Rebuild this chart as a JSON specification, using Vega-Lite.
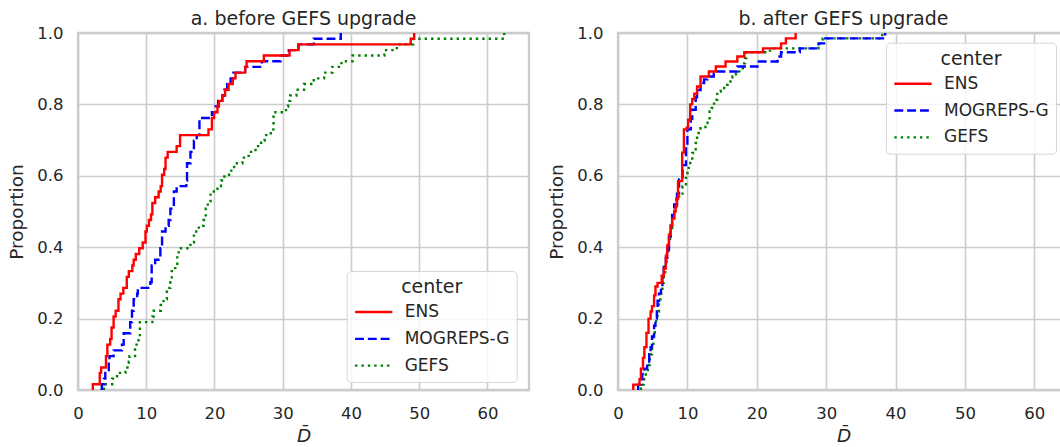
{
  "$schema": "https://vega.github.io/schema/vega-lite/v6.json",
  "padding": {"left": 6, "top": 8, "right": 0, "bottom": 0},
  "background": "white",
  "data": {"values": [
    {"panel":"a","center":"GEFS","D":3.8,"p":0},{"panel":"a","center":"GEFS","D":3.8,"p":0.016},{"panel":"a","center":"GEFS","D":5.01,"p":0.032},{"panel":"a","center":"GEFS","D":5.72,"p":0.048},{"panel":"a","center":"GEFS","D":6.94,"p":0.063},{"panel":"a","center":"GEFS","D":7.45,"p":0.079},{"panel":"a","center":"GEFS","D":7.55,"p":0.095},{"panel":"a","center":"GEFS","D":8.36,"p":0.127},{"panel":"a","center":"GEFS","D":8.87,"p":0.143},{"panel":"a","center":"GEFS","D":9.07,"p":0.19},{"panel":"a","center":"GEFS","D":10.9,"p":0.206},{"panel":"a","center":"GEFS","D":11.1,"p":0.222},{"panel":"a","center":"GEFS","D":12.12,"p":0.238},{"panel":"a","center":"GEFS","D":12.53,"p":0.254},{"panel":"a","center":"GEFS","D":13.03,"p":0.286},{"panel":"a","center":"GEFS","D":13.54,"p":0.302},{"panel":"a","center":"GEFS","D":13.74,"p":0.333},{"panel":"a","center":"GEFS","D":14.25,"p":0.349},{"panel":"a","center":"GEFS","D":14.55,"p":0.381},{"panel":"a","center":"GEFS","D":14.76,"p":0.397},{"panel":"a","center":"GEFS","D":16.48,"p":0.413},{"panel":"a","center":"GEFS","D":16.99,"p":0.444},{"panel":"a","center":"GEFS","D":17.7,"p":0.46},{"panel":"a","center":"GEFS","D":18.41,"p":0.476},{"panel":"a","center":"GEFS","D":18.72,"p":0.508},{"panel":"a","center":"GEFS","D":19.02,"p":0.524},{"panel":"a","center":"GEFS","D":19.43,"p":0.556},{"panel":"a","center":"GEFS","D":20.44,"p":0.571},{"panel":"a","center":"GEFS","D":20.95,"p":0.587},{"panel":"a","center":"GEFS","D":21.46,"p":0.603},{"panel":"a","center":"GEFS","D":22.47,"p":0.619},{"panel":"a","center":"GEFS","D":22.88,"p":0.635},{"panel":"a","center":"GEFS","D":24.1,"p":0.651},{"panel":"a","center":"GEFS","D":25.01,"p":0.667},{"panel":"a","center":"GEFS","D":26.02,"p":0.683},{"panel":"a","center":"GEFS","D":26.84,"p":0.698},{"panel":"a","center":"GEFS","D":27.35,"p":0.714},{"panel":"a","center":"GEFS","D":28.26,"p":0.73},{"panel":"a","center":"GEFS","D":28.66,"p":0.778},{"panel":"a","center":"GEFS","D":30.49,"p":0.794},{"panel":"a","center":"GEFS","D":30.8,"p":0.81},{"panel":"a","center":"GEFS","D":31.1,"p":0.825},{"panel":"a","center":"GEFS","D":32.01,"p":0.841},{"panel":"a","center":"GEFS","D":33.13,"p":0.857},{"panel":"a","center":"GEFS","D":34.55,"p":0.873},{"panel":"a","center":"GEFS","D":36.07,"p":0.889},{"panel":"a","center":"GEFS","D":37.29,"p":0.905},{"panel":"a","center":"GEFS","D":38.61,"p":0.921},{"panel":"a","center":"GEFS","D":40.24,"p":0.937},{"panel":"a","center":"GEFS","D":44.9,"p":0.952},{"panel":"a","center":"GEFS","D":46.73,"p":0.968},{"panel":"a","center":"GEFS","D":49.17,"p":0.984},{"panel":"a","center":"GEFS","D":62.47,"p":1.0},
    {"panel":"a","center":"MOGREPS-G","D":3.49,"p":0},{"panel":"a","center":"MOGREPS-G","D":3.49,"p":0.016},{"panel":"a","center":"MOGREPS-G","D":3.8,"p":0.032},{"panel":"a","center":"MOGREPS-G","D":4.0,"p":0.048},{"panel":"a","center":"MOGREPS-G","D":4.51,"p":0.079},{"panel":"a","center":"MOGREPS-G","D":4.61,"p":0.095},{"panel":"a","center":"MOGREPS-G","D":5.22,"p":0.111},{"panel":"a","center":"MOGREPS-G","D":6.44,"p":0.127},{"panel":"a","center":"MOGREPS-G","D":6.69,"p":0.159},{"panel":"a","center":"MOGREPS-G","D":7.65,"p":0.19},{"panel":"a","center":"MOGREPS-G","D":7.91,"p":0.222},{"panel":"a","center":"MOGREPS-G","D":8.16,"p":0.254},{"panel":"a","center":"MOGREPS-G","D":8.67,"p":0.27},{"panel":"a","center":"MOGREPS-G","D":8.77,"p":0.286},{"panel":"a","center":"MOGREPS-G","D":10.6,"p":0.302},{"panel":"a","center":"MOGREPS-G","D":10.8,"p":0.349},{"panel":"a","center":"MOGREPS-G","D":11.31,"p":0.365},{"panel":"a","center":"MOGREPS-G","D":12.07,"p":0.397},{"panel":"a","center":"MOGREPS-G","D":12.32,"p":0.444},{"panel":"a","center":"MOGREPS-G","D":12.83,"p":0.46},{"panel":"a","center":"MOGREPS-G","D":13.29,"p":0.476},{"panel":"a","center":"MOGREPS-G","D":13.54,"p":0.508},{"panel":"a","center":"MOGREPS-G","D":14.05,"p":0.556},{"panel":"a","center":"MOGREPS-G","D":14.46,"p":0.571},{"panel":"a","center":"MOGREPS-G","D":15.87,"p":0.587},{"panel":"a","center":"MOGREPS-G","D":15.98,"p":0.635},{"panel":"a","center":"MOGREPS-G","D":16.48,"p":0.667},{"panel":"a","center":"MOGREPS-G","D":16.99,"p":0.698},{"panel":"a","center":"MOGREPS-G","D":17.4,"p":0.714},{"panel":"a","center":"MOGREPS-G","D":17.8,"p":0.762},{"panel":"a","center":"MOGREPS-G","D":19.63,"p":0.778},{"panel":"a","center":"MOGREPS-G","D":20.14,"p":0.794},{"panel":"a","center":"MOGREPS-G","D":20.54,"p":0.81},{"panel":"a","center":"MOGREPS-G","D":21.15,"p":0.825},{"panel":"a","center":"MOGREPS-G","D":21.46,"p":0.841},{"panel":"a","center":"MOGREPS-G","D":21.86,"p":0.857},{"panel":"a","center":"MOGREPS-G","D":22.37,"p":0.873},{"panel":"a","center":"MOGREPS-G","D":22.78,"p":0.889},{"panel":"a","center":"MOGREPS-G","D":24.5,"p":0.905},{"panel":"a","center":"MOGREPS-G","D":26.94,"p":0.921},{"panel":"a","center":"MOGREPS-G","D":29.68,"p":0.937},{"panel":"a","center":"MOGREPS-G","D":30.9,"p":0.952},{"panel":"a","center":"MOGREPS-G","D":32.32,"p":0.968},{"panel":"a","center":"MOGREPS-G","D":34.55,"p":0.984},{"panel":"a","center":"MOGREPS-G","D":38.51,"p":1.0},
    {"panel":"a","center":"ENS","D":2.17,"p":0},{"panel":"a","center":"ENS","D":2.17,"p":0.016},{"panel":"a","center":"ENS","D":3.19,"p":0.048},{"panel":"a","center":"ENS","D":3.39,"p":0.063},{"panel":"a","center":"ENS","D":4.1,"p":0.095},{"panel":"a","center":"ENS","D":4.3,"p":0.127},{"panel":"a","center":"ENS","D":4.71,"p":0.143},{"panel":"a","center":"ENS","D":4.92,"p":0.175},{"panel":"a","center":"ENS","D":5.22,"p":0.206},{"panel":"a","center":"ENS","D":5.52,"p":0.222},{"panel":"a","center":"ENS","D":5.93,"p":0.254},{"panel":"a","center":"ENS","D":6.23,"p":0.27},{"panel":"a","center":"ENS","D":6.64,"p":0.286},{"panel":"a","center":"ENS","D":7.15,"p":0.317},{"panel":"a","center":"ENS","D":7.45,"p":0.333},{"panel":"a","center":"ENS","D":7.96,"p":0.349},{"panel":"a","center":"ENS","D":8.16,"p":0.365},{"panel":"a","center":"ENS","D":8.47,"p":0.381},{"panel":"a","center":"ENS","D":8.97,"p":0.397},{"panel":"a","center":"ENS","D":9.48,"p":0.413},{"panel":"a","center":"ENS","D":9.89,"p":0.444},{"panel":"a","center":"ENS","D":10.09,"p":0.46},{"panel":"a","center":"ENS","D":10.4,"p":0.476},{"panel":"a","center":"ENS","D":10.7,"p":0.492},{"panel":"a","center":"ENS","D":10.9,"p":0.524},{"panel":"a","center":"ENS","D":11.31,"p":0.54},{"panel":"a","center":"ENS","D":11.82,"p":0.556},{"panel":"a","center":"ENS","D":12.12,"p":0.571},{"panel":"a","center":"ENS","D":12.32,"p":0.603},{"panel":"a","center":"ENS","D":12.63,"p":0.619},{"panel":"a","center":"ENS","D":12.83,"p":0.651},{"panel":"a","center":"ENS","D":13.14,"p":0.667},{"panel":"a","center":"ENS","D":14.46,"p":0.683},{"panel":"a","center":"ENS","D":14.96,"p":0.714},{"panel":"a","center":"ENS","D":19.12,"p":0.73},{"panel":"a","center":"ENS","D":19.63,"p":0.762},{"panel":"a","center":"ENS","D":19.94,"p":0.778},{"panel":"a","center":"ENS","D":20.44,"p":0.794},{"panel":"a","center":"ENS","D":20.65,"p":0.81},{"panel":"a","center":"ENS","D":21.15,"p":0.825},{"panel":"a","center":"ENS","D":21.56,"p":0.841},{"panel":"a","center":"ENS","D":22.07,"p":0.857},{"panel":"a","center":"ENS","D":22.68,"p":0.873},{"panel":"a","center":"ENS","D":23.08,"p":0.889},{"panel":"a","center":"ENS","D":24.5,"p":0.905},{"panel":"a","center":"ENS","D":24.71,"p":0.921},{"panel":"a","center":"ENS","D":27.24,"p":0.937},{"panel":"a","center":"ENS","D":31.0,"p":0.952},{"panel":"a","center":"ENS","D":32.32,"p":0.968},{"panel":"a","center":"ENS","D":48.76,"p":0.984},{"panel":"a","center":"ENS","D":49.27,"p":1.0},
    {"panel":"b","center":"GEFS","D":3.3,"p":0},{"panel":"b","center":"GEFS","D":3.3,"p":0.015},{"panel":"b","center":"GEFS","D":3.7,"p":0.03},{"panel":"b","center":"GEFS","D":4.0,"p":0.05},{"panel":"b","center":"GEFS","D":4.3,"p":0.07},{"panel":"b","center":"GEFS","D":4.6,"p":0.1},{"panel":"b","center":"GEFS","D":4.9,"p":0.124},{"panel":"b","center":"GEFS","D":5.1,"p":0.15},{"panel":"b","center":"GEFS","D":5.3,"p":0.18},{"panel":"b","center":"GEFS","D":5.5,"p":0.2},{"panel":"b","center":"GEFS","D":5.7,"p":0.22},{"panel":"b","center":"GEFS","D":5.9,"p":0.25},{"panel":"b","center":"GEFS","D":6.1,"p":0.27},{"panel":"b","center":"GEFS","D":6.4,"p":0.3},{"panel":"b","center":"GEFS","D":6.6,"p":0.33},{"panel":"b","center":"GEFS","D":6.8,"p":0.36},{"panel":"b","center":"GEFS","D":7.0,"p":0.39},{"panel":"b","center":"GEFS","D":7.3,"p":0.42},{"panel":"b","center":"GEFS","D":7.5,"p":0.45},{"panel":"b","center":"GEFS","D":7.8,"p":0.48},{"panel":"b","center":"GEFS","D":8.1,"p":0.51},{"panel":"b","center":"GEFS","D":8.4,"p":0.535},{"panel":"b","center":"GEFS","D":8.8,"p":0.55},{"panel":"b","center":"GEFS","D":9.3,"p":0.571},{"panel":"b","center":"GEFS","D":9.8,"p":0.608},{"panel":"b","center":"GEFS","D":10.2,"p":0.636},{"panel":"b","center":"GEFS","D":10.7,"p":0.664},{"panel":"b","center":"GEFS","D":11.2,"p":0.692},{"panel":"b","center":"GEFS","D":11.4,"p":0.72},{"panel":"b","center":"GEFS","D":11.9,"p":0.733},{"panel":"b","center":"GEFS","D":12.6,"p":0.748},{"panel":"b","center":"GEFS","D":12.9,"p":0.757},{"panel":"b","center":"GEFS","D":13.2,"p":0.78},{"panel":"b","center":"GEFS","D":13.5,"p":0.79},{"panel":"b","center":"GEFS","D":13.85,"p":0.813},{"panel":"b","center":"GEFS","D":14.3,"p":0.836},{"panel":"b","center":"GEFS","D":14.8,"p":0.846},{"panel":"b","center":"GEFS","D":15.3,"p":0.855},{"panel":"b","center":"GEFS","D":15.8,"p":0.864},{"panel":"b","center":"GEFS","D":16.5,"p":0.878},{"panel":"b","center":"GEFS","D":17.0,"p":0.887},{"panel":"b","center":"GEFS","D":17.5,"p":0.901},{"panel":"b","center":"GEFS","D":18.0,"p":0.915},{"panel":"b","center":"GEFS","D":18.3,"p":0.93},{"panel":"b","center":"GEFS","D":18.5,"p":0.946},{"panel":"b","center":"GEFS","D":21.9,"p":0.957},{"panel":"b","center":"GEFS","D":28.9,"p":0.971},{"panel":"b","center":"GEFS","D":29.5,"p":0.985},{"panel":"b","center":"GEFS","D":38.1,"p":1.0},
    {"panel":"b","center":"MOGREPS-G","D":2.9,"p":0},{"panel":"b","center":"MOGREPS-G","D":2.9,"p":0.015},{"panel":"b","center":"MOGREPS-G","D":3.3,"p":0.03},{"panel":"b","center":"MOGREPS-G","D":3.5,"p":0.045},{"panel":"b","center":"MOGREPS-G","D":3.8,"p":0.06},{"panel":"b","center":"MOGREPS-G","D":4.2,"p":0.075},{"panel":"b","center":"MOGREPS-G","D":4.5,"p":0.1},{"panel":"b","center":"MOGREPS-G","D":4.7,"p":0.12},{"panel":"b","center":"MOGREPS-G","D":4.9,"p":0.15},{"panel":"b","center":"MOGREPS-G","D":5.2,"p":0.18},{"panel":"b","center":"MOGREPS-G","D":5.4,"p":0.2},{"panel":"b","center":"MOGREPS-G","D":5.6,"p":0.23},{"panel":"b","center":"MOGREPS-G","D":5.7,"p":0.25},{"panel":"b","center":"MOGREPS-G","D":5.9,"p":0.27},{"panel":"b","center":"MOGREPS-G","D":6.2,"p":0.29},{"panel":"b","center":"MOGREPS-G","D":6.4,"p":0.32},{"panel":"b","center":"MOGREPS-G","D":6.6,"p":0.345},{"panel":"b","center":"MOGREPS-G","D":6.9,"p":0.37},{"panel":"b","center":"MOGREPS-G","D":7.1,"p":0.395},{"panel":"b","center":"MOGREPS-G","D":7.35,"p":0.43},{"panel":"b","center":"MOGREPS-G","D":7.6,"p":0.46},{"panel":"b","center":"MOGREPS-G","D":7.8,"p":0.49},{"panel":"b","center":"MOGREPS-G","D":8.1,"p":0.52},{"panel":"b","center":"MOGREPS-G","D":8.5,"p":0.55},{"panel":"b","center":"MOGREPS-G","D":8.8,"p":0.59},{"panel":"b","center":"MOGREPS-G","D":9.3,"p":0.63},{"panel":"b","center":"MOGREPS-G","D":9.8,"p":0.68},{"panel":"b","center":"MOGREPS-G","D":10.0,"p":0.73},{"panel":"b","center":"MOGREPS-G","D":10.5,"p":0.76},{"panel":"b","center":"MOGREPS-G","D":10.7,"p":0.785},{"panel":"b","center":"MOGREPS-G","D":11.2,"p":0.82},{"panel":"b","center":"MOGREPS-G","D":11.4,"p":0.84},{"panel":"b","center":"MOGREPS-G","D":11.9,"p":0.86},{"panel":"b","center":"MOGREPS-G","D":12.4,"p":0.87},{"panel":"b","center":"MOGREPS-G","D":12.9,"p":0.878},{"panel":"b","center":"MOGREPS-G","D":13.8,"p":0.887},{"panel":"b","center":"MOGREPS-G","D":14.3,"p":0.892},{"panel":"b","center":"MOGREPS-G","D":17.2,"p":0.906},{"panel":"b","center":"MOGREPS-G","D":20.1,"p":0.92},{"panel":"b","center":"MOGREPS-G","D":23.0,"p":0.934},{"panel":"b","center":"MOGREPS-G","D":23.5,"p":0.946},{"panel":"b","center":"MOGREPS-G","D":26.2,"p":0.957},{"panel":"b","center":"MOGREPS-G","D":28.9,"p":0.971},{"panel":"b","center":"MOGREPS-G","D":29.7,"p":0.985},{"panel":"b","center":"MOGREPS-G","D":38.5,"p":1.0},
    {"panel":"b","center":"ENS","D":2.2,"p":0},{"panel":"b","center":"ENS","D":2.2,"p":0.015},{"panel":"b","center":"ENS","D":3.1,"p":0.03},{"panel":"b","center":"ENS","D":3.3,"p":0.06},{"panel":"b","center":"ENS","D":3.6,"p":0.09},{"panel":"b","center":"ENS","D":3.8,"p":0.12},{"panel":"b","center":"ENS","D":4.1,"p":0.16},{"panel":"b","center":"ENS","D":4.4,"p":0.2},{"panel":"b","center":"ENS","D":4.7,"p":0.22},{"panel":"b","center":"ENS","D":4.9,"p":0.235},{"panel":"b","center":"ENS","D":5.2,"p":0.265},{"panel":"b","center":"ENS","D":5.4,"p":0.29},{"panel":"b","center":"ENS","D":5.7,"p":0.3},{"panel":"b","center":"ENS","D":6.3,"p":0.32},{"panel":"b","center":"ENS","D":6.6,"p":0.34},{"panel":"b","center":"ENS","D":6.9,"p":0.375},{"panel":"b","center":"ENS","D":7.1,"p":0.405},{"panel":"b","center":"ENS","D":7.35,"p":0.435},{"panel":"b","center":"ENS","D":7.6,"p":0.46},{"panel":"b","center":"ENS","D":7.8,"p":0.48},{"panel":"b","center":"ENS","D":8.1,"p":0.5},{"panel":"b","center":"ENS","D":8.3,"p":0.515},{"panel":"b","center":"ENS","D":8.5,"p":0.535},{"panel":"b","center":"ENS","D":8.65,"p":0.585},{"panel":"b","center":"ENS","D":9.25,"p":0.665},{"panel":"b","center":"ENS","D":9.5,"p":0.73},{"panel":"b","center":"ENS","D":9.9,"p":0.735},{"panel":"b","center":"ENS","D":10.1,"p":0.757},{"panel":"b","center":"ENS","D":10.4,"p":0.8},{"panel":"b","center":"ENS","D":10.7,"p":0.815},{"panel":"b","center":"ENS","D":11.0,"p":0.83},{"panel":"b","center":"ENS","D":11.4,"p":0.85},{"panel":"b","center":"ENS","D":11.9,"p":0.878},{"panel":"b","center":"ENS","D":13.1,"p":0.892},{"panel":"b","center":"ENS","D":14.1,"p":0.906},{"panel":"b","center":"ENS","D":15.5,"p":0.92},{"panel":"b","center":"ENS","D":17.2,"p":0.934},{"panel":"b","center":"ENS","D":18.2,"p":0.946},{"panel":"b","center":"ENS","D":20.9,"p":0.957},{"panel":"b","center":"ENS","D":23.5,"p":0.971},{"panel":"b","center":"ENS","D":24.2,"p":0.985},{"panel":"b","center":"ENS","D":25.6,"p":1.0}
  ]},
  "spacing": 89,
  "bounds": "flush",
  "hconcat": [
    {
      "title": "a. before GEFS upgrade",
      "width": 451,
      "height": 357,
      "transform": [{"filter": "datum.panel === 'a'"}],
      "mark": {"type": "line", "interpolate": "step-after", "strokeWidth": 2.4, "clip": true},
      "encoding": {
        "x": {"field": "D", "type": "quantitative", "scale": {"domain": [0, 66.1], "nice": false, "zero": false}, "axis": {"values": [0, 10, 20, 30, 40, 50, 60], "title": "D\u0304"}},
        "y": {"field": "p", "type": "quantitative", "scale": {"domain": [0, 1], "nice": false}, "axis": {"values": [0, 0.2, 0.4, 0.6, 0.8, 1.0], "format": ".1f", "title": "Proportion"}},
        "color": {"field": "center", "type": "nominal", "scale": {"domain": ["ENS", "MOGREPS-G", "GEFS"], "range": ["#ff0000", "#0000ff", "#008000"]}, "legend": {"title": "center", "orient": "none", "legendX": 268.7, "legendY": 238}},
        "strokeDash": {"field": "center", "type": "nominal", "scale": {"domain": ["ENS", "MOGREPS-G", "GEFS"], "range": [[1, 0], [8.9, 3.9], [2.4, 4]]}, "legend": {"title": "center", "orient": "none", "legendX": 268.7, "legendY": 238}},
        "order": {"field": "p", "type": "quantitative"}
      }
    },
    {
      "title": "b. after GEFS upgrade",
      "width": 451,
      "height": 357,
      "transform": [{"filter": "datum.panel === 'b'"}],
      "mark": {"type": "line", "interpolate": "step-after", "strokeWidth": 2.4, "clip": true},
      "encoding": {
        "x": {"field": "D", "type": "quantitative", "scale": {"domain": [0, 65.0], "nice": false, "zero": false}, "axis": {"values": [0, 10, 20, 30, 40, 50, 60], "title": "D\u0304"}},
        "y": {"field": "p", "type": "quantitative", "scale": {"domain": [0, 1], "nice": false}, "axis": {"values": [0, 0.2, 0.4, 0.6, 0.8, 1.0], "format": ".1f", "title": "Proportion"}},
        "color": {"field": "center", "type": "nominal", "scale": {"domain": ["ENS", "MOGREPS-G", "GEFS"], "range": ["#ff0000", "#0000ff", "#008000"]}, "legend": {"title": "center", "orient": "none", "legendX": 268, "legendY": 9.7}},
        "strokeDash": {"field": "center", "type": "nominal", "scale": {"domain": ["ENS", "MOGREPS-G", "GEFS"], "range": [[1, 0], [8.9, 3.9], [2.4, 4]]}, "legend": {"title": "center", "orient": "none", "legendX": 268, "legendY": 9.7}},
        "order": {"field": "p", "type": "quantitative"}
      }
    }
  ],
  "resolve": {"legend": {"color": "independent", "strokeDash": "independent"}},
  "config": {
    "font": "DejaVu Sans",
    "view": {"stroke": "#cccccc", "strokeWidth": 2.4},
    "axis": {"domain": false, "ticks": false, "grid": true, "gridColor": "#cccccc", "gridWidth": 1.6, "labelFont": "DejaVu Sans", "labelFontSize": 16.5, "labelColor": "#262626", "labelPadding": 15, "titleFont": "DejaVu Sans", "titleFontSize": 18.5, "titleFontWeight": "normal", "titleColor": "#262626", "labelFlush": false, "labelOverlap": false, "labelBound": false},
    "axisX": {"titlePadding": 4.5, "titleFontStyle": "italic"},
    "axisY": {"titlePadding": 10},
    "title": {"font": "DejaVu Sans", "fontSize": 19, "fontWeight": "normal", "color": "#262626", "offset": -4, "baseline": "alphabetic", "anchor": "middle", "frame": "group"},
    "legend": {"symbolType": "stroke", "symbolSize": 1390, "symbolStrokeWidth": 2.4, "clipHeight": 17.5, "rowPadding": 7.8, "titlePadding": 6.3, "labelOffset": 11, "padding": 7, "labelFont": "DejaVu Sans", "labelFontSize": 17, "labelColor": "#262626", "titleFont": "DejaVu Sans", "titleFontSize": 19, "titleFontWeight": "normal", "titleColor": "#262626", "titleAnchor": "middle", "fillColor": "rgba(255,255,255,0.8)", "strokeColor": "#d6d6d6", "cornerRadius": 4}
  }
}
